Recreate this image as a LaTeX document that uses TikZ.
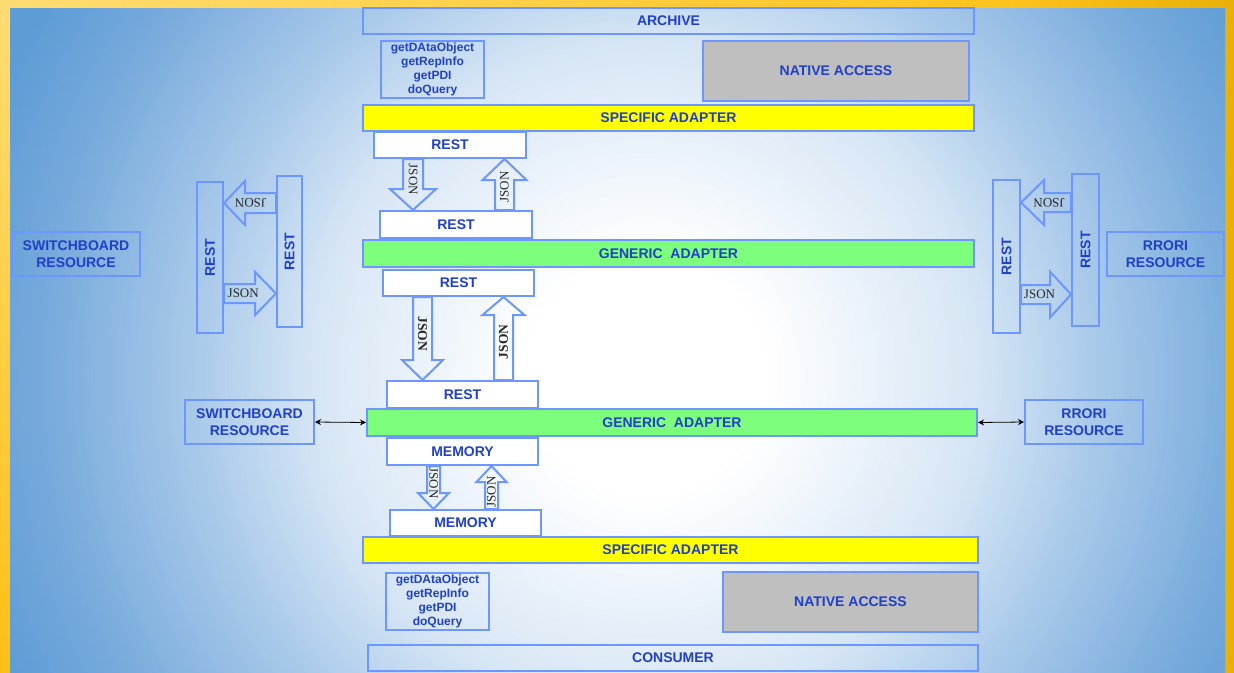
\documentclass[tikz,border=0pt]{standalone}
\usepackage{fontspec}
\setmainfont{Liberation Sans}
\newfontfamily\jsonfont{Liberation Serif}
\usetikzlibrary{arrows.meta,calc}
\definecolor{txtblue}{RGB}{32,64,200}
\definecolor{bordblue}{RGB}{110,150,255}
\definecolor{natgray}{RGB}{191,191,191}
\definecolor{specyellow}{RGB}{255,255,0}
\definecolor{gengreen}{RGB}{125,255,125}
\definecolor{bgA}{RGB}{215,230,245}
\definecolor{bgB}{RGB}{170,202,234}
\definecolor{bgC}{RGB}{120,170,220}
\definecolor{bgD}{RGB}{93,156,213}
\definecolor{goldA}{RGB}{255,220,115}
\definecolor{goldB}{RGB}{255,196,30}
\definecolor{goldC}{RGB}{232,176,8}
\definecolor{goldD}{RGB}{255,192,20}
\definecolor{jsoncol}{RGB}{40,40,40}
% pgf fits the middle 50bp x 50bp of a shading to the path's bounding box
\pgfdeclareradialshading{bgshade}{\pgfpoint{0bp}{0bp}}{color(0bp)=(white); color(3.75bp)=(white); color(10.3bp)=(bgA); color(14bp)=(bgB); color(18.75bp)=(bgC); color(22bp)=(bgD); color(50bp)=(bgD)}
\pgfdeclarehorizontalshading{goldsh}{100bp}{color(0bp)=(goldA); color(25bp)=(goldA); color(65bp)=(goldB); color(75bp)=(goldC); color(100bp)=(goldC)}
\tikzset{
  box/.style={draw=bordblue, line width=2pt, inner sep=1pt, text=txtblue, align=center,
    font=\bfseries\fontsize{14}{17}\selectfont},
  whitebox/.style={box, fill=white},
  opsbox/.style={box, font=\bfseries\fontsize{12}{14}\selectfont},
  vlabel/.style={text=txtblue, inner sep=0pt, font=\bfseries\fontsize{14}{17}\selectfont, rotate=90},
  blkarrow/.style={draw=bordblue, line width=2pt, line join=miter},
  jsonlbl/.style={font=\jsonfont\fontsize{13}{13}\selectfont, text=jsoncol, inner sep=0pt},
  jsonbold/.style={jsonlbl, font=\jsonfont\bfseries\fontsize{13.5}{13.5}\selectfont},
  dblarrow/.style={{Stealth[length=6pt,width=6pt]}-{Stealth[length=6pt,width=6pt]}, line width=0.8pt, black}
}
% vertical block arrow: #1 label name, #2 tail, #3 tip, #4 shaft half, #5 head half, #6 head length, #7 label rotation, #8 label position, #9 label style
\newcommand\vblk[9]{%
  \draw[blkarrow] let \p1=(#2), \p2=(#3), \n1={(\y2)-#6*((\y2)-(\y1))/abs((\y2)-(\y1))} in
    (\x1-#4pt,\y1) -- (\x1-#4pt,{\n1*1pt}) -- (\x1-#5pt,{\n1*1pt}) -- (\x2,\y2) --
    (\x1+#5pt,{\n1*1pt}) -- (\x1+#4pt,{\n1*1pt}) -- (\x1+#4pt,\y1) -- cycle;
  \node[#9, rotate=#7] (#1) at ($(#2)!#8!(#3)$) {JSON};
}
% horizontal block arrow
\newcommand\hblk[9]{%
  \draw[blkarrow] let \p1=(#2), \p2=(#3), \n1={(\x2)-#6*((\x2)-(\x1))/abs((\x2)-(\x1))} in
    (\x1,\y1-#4pt) -- ({\n1*1pt},\y1-#4pt) -- ({\n1*1pt},\y1-#5pt) -- (\x2,\y2) --
    ({\n1*1pt},\y1+#5pt) -- ({\n1*1pt},\y1+#4pt) -- (\x1,\y1+#4pt) -- cycle;
  \node[#9, rotate=#7] (#1) at ($(#2)!#8!(#3)$) {JSON};
}
\begin{document}
\begin{tikzpicture}[x=1pt,y=-1pt]
\useasboundingbox (0,0) rectangle (1234,672);
% frame and background
\shade[shading=goldsh] (0,0) rectangle (1234,672);
\shade[top color=goldA, bottom color=goldD] (0,0) rectangle (10,672);
\begin{scope}
  \clip (10,8) rectangle (1225,672);
  \shade[shading=bgshade] (645,375) circle (800pt);
\end{scope}

% central stack
\node[box, minimum width=611pt, minimum height=26pt] (archive) at (668.5,21) {ARCHIVE};
\node[opsbox, minimum width=103pt, minimum height=57pt] (ops1) at (432.5,69.5) {getDAtaObject\\getRepInfo\\getPDI\\doQuery};
\node[box, fill=natgray, minimum width=266pt, minimum height=60pt] (native1) at (836,71) {NATIVE ACCESS};
\node[box, fill=specyellow, minimum width=611pt, minimum height=26pt] (spec1) at (668.5,118) {SPECIFIC ADAPTER};
\node[whitebox, minimum width=152pt, minimum height=26pt] (rest1) at (450,145) {REST};
\node[whitebox, minimum width=152pt, minimum height=27pt] (rest2) at (456,224.5) {REST};
\node[box, fill=gengreen, minimum width=611pt, minimum height=27pt] (gen1) at (668.5,253.5) {GENERIC\ \ ADAPTER};
\node[whitebox, minimum width=151pt, minimum height=26pt] (rest3) at (458.5,283) {REST};
\node[whitebox, minimum width=151pt, minimum height=27pt] (rest4) at (462.5,394.5) {REST};
\node[box, fill=gengreen, minimum width=610pt, minimum height=27pt] (gen2) at (672,422.5) {GENERIC\ \ ADAPTER};
\node[whitebox, minimum width=151pt, minimum height=27pt] (mem1) at (462.5,451.5) {MEMORY};
\node[whitebox, minimum width=151pt, minimum height=26pt] (mem2) at (465.5,523) {MEMORY};
\node[box, fill=specyellow, minimum width=615pt, minimum height=26pt] (spec2) at (670.5,550) {SPECIFIC ADAPTER};
\node[opsbox, minimum width=103pt, minimum height=57pt] (ops2) at (437.5,601.5) {getDAtaObject\\getRepInfo\\getPDI\\doQuery};
\node[box, fill=natgray, minimum width=255pt, minimum height=60pt] (native2) at (850.5,602) {NATIVE ACCESS};
\node[box, minimum width=610pt, minimum height=26pt] (consumer) at (673,658) {CONSUMER};

% side resources
\node[box, minimum width=128pt, minimum height=44pt] (sw1) at (76,254) {SWITCHBOARD\\RESOURCE};
\node[box, minimum width=26pt, minimum height=151pt] (restL1) at (210,257.5) {};
\node[vlabel] (restL1t) at (restL1) {REST};
\node[box, minimum width=25pt, minimum height=151pt] (restL2) at (289.5,251.5) {};
\node[vlabel] (restL2t) at (restL2) {REST};
\node[box, minimum width=27pt, minimum height=153pt] (restR1) at (1006.5,256.5) {};
\node[vlabel] (restR1t) at (restR1) {REST};
\node[box, minimum width=27pt, minimum height=152pt] (restR2) at (1085.5,250) {};
\node[vlabel] (restR2t) at (restR2) {REST};
\node[box, minimum width=117pt, minimum height=44pt] (rr1) at (1165.5,254) {RRORI\\RESOURCE};
\node[box, minimum width=129pt, minimum height=44pt] (sw2) at (249.5,422) {SWITCHBOARD\\RESOURCE};
\node[box, minimum width=118pt, minimum height=44pt] (rr2) at (1084,422) {RRORI\\RESOURCE};

% block arrow end points
\coordinate (a1t) at ([xshift=-37pt]rest1.south);  \coordinate (a1h) at (a1t |- rest2.north);
\coordinate (a2t) at ([xshift=48.5pt]rest2.north); \coordinate (a2h) at (a2t |- rest1.south);
\coordinate (a3t) at ([xshift=-36pt]rest3.south);  \coordinate (a3h) at (a3t |- rest4.north);
\coordinate (a4t) at ([xshift=41pt]rest4.north);   \coordinate (a4h) at (a4t |- rest3.south);
\coordinate (a5t) at ([xshift=-29pt]mem1.south);   \coordinate (a5h) at (a5t |- mem2.north);
\coordinate (a6t) at ([xshift=26pt]mem2.north);    \coordinate (a6h) at (a6t |- mem1.south);
\coordinate (b1t) at ([yshift=48.5pt]restL2.west); \coordinate (b1h) at (b1t -| restL1.east);
\coordinate (b2t) at ([yshift=-36pt]restL1.east);  \coordinate (b2h) at (b2t -| restL2.west);
\coordinate (c1t) at ([yshift=47.5pt]restR2.west); \coordinate (c1h) at (c1t -| restR1.east);
\coordinate (c2t) at ([yshift=-38pt]restR1.east);  \coordinate (c2h) at (c2t -| restR2.west);

% block arrows
\vblk{j1}{a1t}{a1h}{10}{23}{21}{-90}{0.4}{jsonlbl}
\vblk{j2}{a2t}{a2h}{9.5}{22}{21}{90}{0.45}{jsonlbl}
\vblk{j3}{a3t}{a3h}{9.5}{20.5}{20}{-90}{0.44}{jsonbold}
\vblk{j4}{a4t}{a4h}{9.5}{21}{18}{90}{0.46}{jsonbold}
\vblk{j5}{a5t}{a5h}{6.5}{15.5}{16}{-90}{0.4}{jsonlbl}
\vblk{j6}{a6t}{a6h}{6.5}{15}{16}{90}{0.4}{jsonlbl}
\hblk{j7}{b1t}{b1h}{10}{22}{21}{180}{0.49}{jsonlbl}
\hblk{j8}{b2t}{b2h}{9.5}{21.5}{21}{0}{0.37}{jsonlbl}
\hblk{j9}{c1t}{c1h}{9.5}{22.5}{23}{180}{0.44}{jsonlbl}
\hblk{j10}{c2t}{c2h}{9.5}{23}{21}{0}{0.37}{jsonlbl}

% thin double arrows
\draw[dblarrow] (sw2.east) -- (gen2.west);
\draw[dblarrow] (gen2.east) -- (rr2.west);
\end{tikzpicture}
\end{document}
